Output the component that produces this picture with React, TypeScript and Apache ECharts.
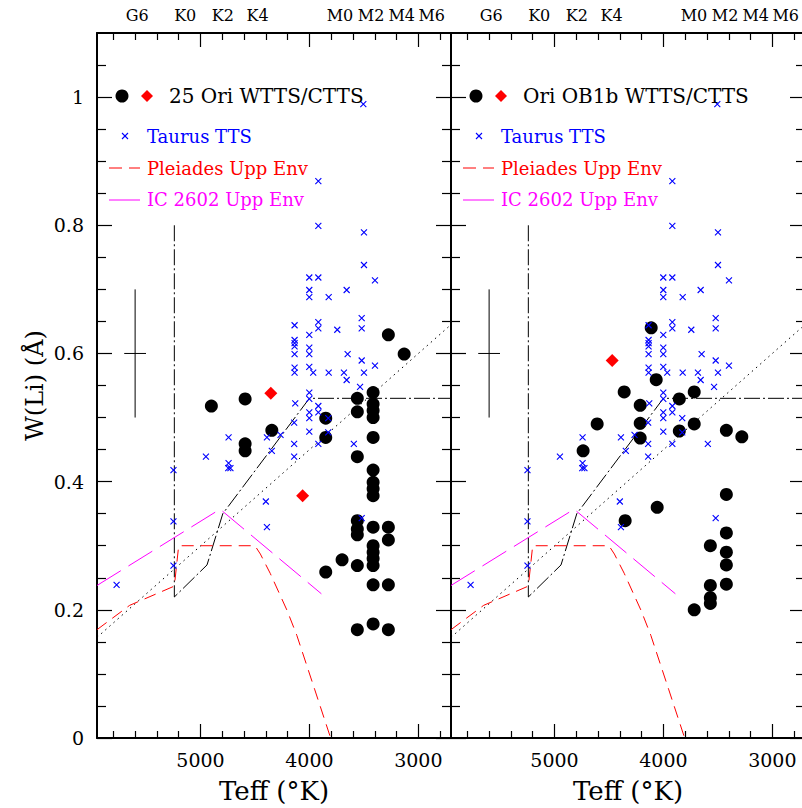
import React, { useEffect, useRef } from 'react';
import * as echarts from 'echarts';

// ---------- axes ----------
const TEFF_MIN = 2700;
const TEFF_MAX = 5950;
const W_MIN = 0;
const W_MAX = 1.1;
const xMajorTicks = [3000, 4000, 5000];
const xMinorTicks = [2800, 3200, 3400, 3600, 3800, 4200, 4400, 4600, 4800, 5200, 5400, 5600, 5800];
const yMajorTicks = [0, 0.2, 0.4, 0.6, 0.8, 1];
const yMinorTicks = [0.05, 0.1, 0.15, 0.25, 0.3, 0.35, 0.45, 0.5, 0.55, 0.65, 0.7, 0.75, 0.85, 0.9, 0.95, 1.05];
const spectralTypes = ['G6', 'K0', 'K2', 'K4', 'M0', 'M2', 'M4', 'M6'];
const spectralTeff = [5580, 5140, 4795, 4476, 3719, 3434, 3152, 2877];
const panelTitles = ['25 Ori WTTS/CTTS', 'Ori OB1b WTTS/CTTS'];

// ---------- reference curves ----------
const liDepletionBoundary = [[5240, 0.8], [5240, 0.22], [4940, 0.27], [4795, 0.35], [4000, 0.53], [2700, 0.53]];
const dottedRelation = [[5950, 0.157], [2700, 0.645]];
const pleiadesUppEnv = [[5950, 0.169], [5650, 0.207], [5240, 0.237], [5200, 0.3], [4500, 0.3], [4450, 0.287], [4360, 0.257], [4205, 0.199], [4115, 0.16], [3950, 0.075], [3805, 0.0]];
const ic2602UppEnv = [[5950, 0.238], [4820, 0.357], [3890, 0.225]];
const errBarV = [[5600, 0.7], [5600, 0.5]];
const errBarH = [[5700, 0.6], [5500, 0.6]];

// ---------- Taurus TTS (both panels) ----------
const taurusTTS = [
  [5770, 0.239], [5248, 0.418], [5248, 0.338], [5248, 0.269], [4950, 0.439],
  [4742, 0.469], [4742, 0.429], [4745, 0.421], [4725, 0.421],
  [4400, 0.369], [4390, 0.329], [4390, 0.469], [4345, 0.448], [4265, 0.473],
  [4140, 0.459], [4140, 0.439], [4140, 0.492],
  [3918, 0.869], [3918, 0.799], [3499, 0.789], [3499, 0.738], [4001, 0.7185], [3918, 0.7185],
  [3398, 0.714], [4001, 0.699], [4001, 0.688], [3823, 0.688], [3658, 0.699], [4136, 0.644],
  [3520, 0.655], [3520, 0.639], [3918, 0.649], [3918, 0.639], [4001, 0.629], [3744, 0.637],
  [4136, 0.621], [4136, 0.616], [4136, 0.611], [4136, 0.599], [4001, 0.609], [4001, 0.599],
  [3649, 0.599], [3520, 0.589], [3398, 0.581], [4136, 0.578], [4001, 0.579], [4136, 0.57],
  [3965, 0.57], [3823, 0.57], [3683, 0.57], [3658, 0.5586], [3499, 0.57], [3535, 0.548],
  [4001, 0.539], [4001, 0.529], [4130, 0.522], [3918, 0.518], [4001, 0.508], [3918, 0.508],
  [4001, 0.499], [3827, 0.499], [4001, 0.478], [3827, 0.477], [3918, 0.459], [3592, 0.459],
  [3520, 0.343], [3505, 0.989],
];

// ---------- 25 Ori ----------
const ori25WTTS = [
  [4900, 0.518], [4590, 0.529], [4590, 0.459], [4590, 0.448], [4345, 0.48],
  [3850, 0.499], [3850, 0.469], [3850, 0.259], [3700, 0.278],
  [3560, 0.53], [3560, 0.509], [3560, 0.439], [3560, 0.339], [3560, 0.326], [3560, 0.317], [3560, 0.269], [3560, 0.169],
  [3415, 0.539], [3415, 0.521], [3415, 0.511], [3415, 0.5], [3415, 0.469], [3415, 0.418], [3415, 0.399],
  [3415, 0.389], [3415, 0.378], [3415, 0.329], [3415, 0.3], [3415, 0.29], [3415, 0.28], [3415, 0.269],
  [3415, 0.239], [3415, 0.178],
  [3275, 0.629], [3275, 0.329], [3275, 0.309], [3275, 0.239], [3275, 0.169],
  [3130, 0.599],
];
const ori25CTTS = [[4354, 0.538], [4062, 0.378]];

// ---------- Ori OB1b ----------
const ob1bWTTS = [
  [4737, 0.448], [4608, 0.49], [4360, 0.54], [4213, 0.519], [4213, 0.491], [4213, 0.468],
  [4351, 0.339], [4066, 0.559], [4112, 0.64], [4057, 0.36],
  [3854, 0.529], [3854, 0.479], [3717, 0.49], [3717, 0.54],
  [3569, 0.3], [3569, 0.238], [3569, 0.219], [3569, 0.21], [3717, 0.2],
  [3422, 0.48], [3280, 0.47], [3422, 0.38], [3422, 0.32], [3422, 0.29], [3422, 0.27], [3422, 0.24],
];
const ob1bCTTS = [[4470, 0.589]];

const FONT = "'DejaVu Serif', serif";
const BLUE = '#0000ff';
const RED = '#ff0000';
const MAGENTA = '#ff00ff';

function xAxisDef(g: number, position: string, ticks: number[], len: number, extra: any = {}) {
  return {
    type: 'value', gridIndex: g, position, min: TEFF_MIN, max: TEFF_MAX, inverse: true,
    axisLine: { show: true, onZero: false, lineStyle: { color: '#000', width: 2 } },
    axisTick: { show: true, inside: true, length: len, customValues: ticks, lineStyle: { color: '#000', width: 1.2 } },
    axisLabel: { show: false },
    splitLine: { show: false },
    ...extra,
  };
}
function yAxisDef(g: number, position: string, ticks: number[], len: number, extra: any = {}) {
  return {
    type: 'value', gridIndex: g, position, min: W_MIN, max: W_MAX,
    axisLine: { show: true, onZero: false, lineStyle: { color: '#000', width: 2 } },
    axisTick: { show: true, inside: true, length: len, customValues: ticks, lineStyle: { color: '#000', width: 1.2 } },
    axisLabel: { show: false },
    splitLine: { show: false },
    ...extra,
  };
}

function lineSeries(g: number, data: number[][], color: string, type: any, width = 1) {
  return {
    type: 'line', xAxisIndex: g * 4, yAxisIndex: g * 4, data, showSymbol: false, symbol: 'none',
    lineStyle: { color, width, type }, silent: true, z: 2,
  };
}

export default function App() {
  const ref = useRef<HTMLDivElement>(null);
  useEffect(() => {
    if (!ref.current) return;
    const chart = echarts.init(ref.current, null, { renderer: 'svg' });
    const xAxes: any[] = [];
    const yAxes: any[] = [];
    const series: any[] = [];
    const graphics: any[] = [];
    const circleSets = [ori25WTTS, ob1bWTTS];
    const diamondSets = [ori25CTTS, ob1bCTTS];
    for (let g = 0; g < 2; g++) {
      xAxes.push(xAxisDef(g, 'bottom', xMajorTicks, 14, {
        axisLabel: {
          show: true, customValues: xMajorTicks, fontFamily: FONT, fontSize: 19, color: '#000', margin: 12,
          formatter: (v: number) => String(v),
        },
        name: 'Teff (°K)', nameLocation: 'middle', nameGap: 40,
        nameTextStyle: { fontFamily: FONT, fontSize: 26, color: '#000' },
      }));
      xAxes.push(xAxisDef(g, 'bottom', xMinorTicks, 7, { axisLine: { show: false, onZero: false } }));
      xAxes.push(xAxisDef(g, 'top', xMajorTicks, 14));
      xAxes.push(xAxisDef(g, 'top', xMinorTicks, 7, {
        axisLine: { show: false, onZero: false },
        axisLabel: {
          show: true, customValues: spectralTeff, fontFamily: FONT, fontSize: 16, color: '#000', margin: 10,
          hideOverlap: false,
          formatter: (v: number) => spectralTypes[spectralTeff.indexOf(v)] ?? '',
        },
      }));
      yAxes.push(yAxisDef(g, 'left', yMajorTicks, 15, g === 0 ? {
        axisLabel: {
          show: true, customValues: yMajorTicks, fontFamily: FONT, fontSize: 19, color: '#000', margin: 13,
          formatter: (v: number) => String(v),
        },
        name: 'W(Li) (Å)', nameLocation: 'middle', nameGap: 50, nameRotate: 90,
        nameTextStyle: { fontFamily: FONT, fontSize: 24, color: '#000' },
      } : {}));
      yAxes.push(yAxisDef(g, 'left', yMinorTicks, 9, { axisLine: { show: false, onZero: false } }));
      yAxes.push(yAxisDef(g, 'right', yMajorTicks, 15));
      yAxes.push(yAxisDef(g, 'right', yMinorTicks, 9, { axisLine: { show: false, onZero: false } }));

      series.push(lineSeries(g, errBarV, '#000', 'solid'));
      series.push(lineSeries(g, errBarH, '#000', 'solid'));
      series.push(lineSeries(g, liDepletionBoundary, '#000', [16, 3, 2, 3]));
      series.push(lineSeries(g, dottedRelation, '#000', [1.5, 4]));
      series.push(lineSeries(g, pleiadesUppEnv, RED, [12, 7]));
      series.push(lineSeries(g, ic2602UppEnv, MAGENTA, [28, 9]));
      series.push({
        type: 'scatter', xAxisIndex: g * 4, yAxisIndex: g * 4, data: circleSets[g],
        symbol: 'circle', symbolSize: 13, itemStyle: { color: '#000', opacity: 1 }, z: 3, silent: true,
      });
      series.push({
        type: 'scatter', xAxisIndex: g * 4, yAxisIndex: g * 4, data: diamondSets[g],
        symbol: 'diamond', symbolSize: 13, itemStyle: { color: RED, opacity: 1 }, z: 4, silent: true,
      });
      series.push({
        type: 'scatter', xAxisIndex: g * 4, yAxisIndex: g * 4, data: taurusTTS,
        symbol: 'path://M0 0L10 10M10 0L0 10', symbolSize: 6,
        itemStyle: { color: 'rgba(0,0,0,0)', borderColor: BLUE, borderWidth: 1.1, opacity: 1 }, z: 5, silent: true,
      });

      // in-plot legend
      const ox = g * 354;
      graphics.push({ type: 'circle', shape: { cx: 122 + ox, cy: 96, r: 6.5 }, style: { fill: '#000' }, z: 10 });
      graphics.push({ type: 'polygon', shape: { points: [[147 + ox, 90], [153 + ox, 96], [147 + ox, 102], [141 + ox, 96]] }, style: { fill: RED }, z: 10 });
      graphics.push({ type: 'text', x: 169 + ox, y: 96, style: { text: panelTitles[g], font: `20px ${FONT}`, fill: '#000', verticalAlign: 'middle' }, z: 10 });
      graphics.push({ type: 'line', shape: { x1: 122 + ox, y1: 133, x2: 128 + ox, y2: 139 }, style: { stroke: BLUE, lineWidth: 1.1 }, z: 10 });
      graphics.push({ type: 'line', shape: { x1: 128 + ox, y1: 133, x2: 122 + ox, y2: 139 }, style: { stroke: BLUE, lineWidth: 1.1 }, z: 10 });
      graphics.push({ type: 'text', x: 147 + ox, y: 136, style: { text: 'Taurus TTS', font: `18px ${FONT}`, fill: BLUE, verticalAlign: 'middle' }, z: 10 });
      graphics.push({ type: 'line', shape: { x1: 109 + ox, y1: 168, x2: 122 + ox, y2: 168 }, style: { stroke: RED, lineWidth: 1 }, z: 10 });
      graphics.push({ type: 'line', shape: { x1: 129 + ox, y1: 168, x2: 140 + ox, y2: 168 }, style: { stroke: RED, lineWidth: 1 }, z: 10 });
      graphics.push({ type: 'text', x: 147 + ox, y: 168, style: { text: 'Pleiades Upp Env', font: `18px ${FONT}`, fill: RED, verticalAlign: 'middle' }, z: 10 });
      graphics.push({ type: 'line', shape: { x1: 109 + ox, y1: 200, x2: 140 + ox, y2: 200 }, style: { stroke: MAGENTA, lineWidth: 1 }, z: 10 });
      graphics.push({ type: 'text', x: 147 + ox, y: 199, style: { text: 'IC 2602 Upp Env', font: `18px ${FONT}`, fill: MAGENTA, verticalAlign: 'middle' }, z: 10 });
    }

    chart.setOption({
      animation: false,
      backgroundColor: '#fff',
      grid: [
        { left: 97, top: 33, width: 354, height: 705, containLabel: false, outerBoundsMode: 'none' },
        { left: 451, top: 33, width: 354, height: 705, containLabel: false, outerBoundsMode: 'none' },
      ],
      xAxis: xAxes,
      yAxis: yAxes,
      series,
      graphic: graphics,
    });
    return () => chart.dispose();
  }, []);
  return <div ref={ref} style={{ position: 'absolute', left: 0, top: 0, width: 802, height: 808 }} />;
}
